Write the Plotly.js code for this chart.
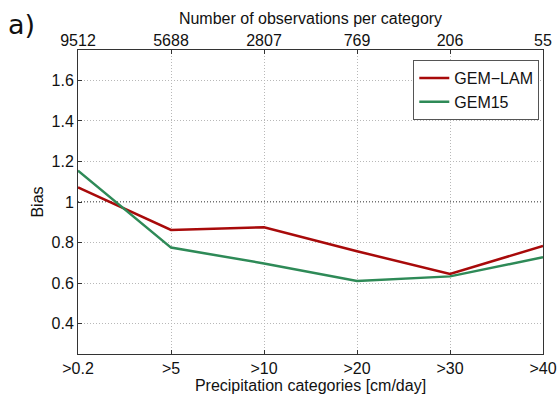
<!DOCTYPE html>
<html><head><meta charset="utf-8">
<script src="https://cdn.plot.ly/plotly-3.0.1.min.js"></script>
<style>body{margin:0;background:#fff}#chart{width:558px;height:401px}</style>
</head><body><div id="chart"></div>
<script>
const categories = [">0.2", ">5", ">10", ">20", ">30", ">40"];
const observations = ["9512", "5688", "2807", "769", "206", "55"];
const gemLam = [1.072, 0.862, 0.875, 0.757, 0.645, 0.783];
const gem15 = [1.155, 0.775, 0.697, 0.610, 0.633, 0.727];

const idx = categories.map((c, i) => i);
const font = {family: "Liberation Sans, Arial, sans-serif", size: 16, color: "#111"};

const traces = [
  {x: idx, y: gemLam, name: "GEM\u2212LAM", type: "scatter", mode: "lines",
   line: {color: "#a80a0a", width: 2.5}},
  {x: idx, y: gem15, name: "GEM15", type: "scatter", mode: "lines",
   line: {color: "#2e8a57", width: 2.5}},
  {x: idx, y: idx.map(() => null), xaxis: "x2", showlegend: false, hoverinfo: "skip"}
];

const grid = {showgrid: true, gridcolor: "#b8b8b8", griddash: "1px,2px", gridwidth: 1};

const layout = {
  width: 558, height: 401,
  margin: {l: 78, r: 15, t: 50, b: 47},
  paper_bgcolor: "#fff", plot_bgcolor: "#fff",
  font: font,
  showlegend: true,
  legend: {x: 0.992, y: 0.967, xanchor: "right", yanchor: "top",
           bordercolor: "#555", borderwidth: 1, bgcolor: "#fff",
           font: {family: font.family, size: 16, color: "#111"},
           tracegroupgap: 0, itemwidth: 30},
  xaxis: Object.assign({
    range: [0, 5], tickmode: "array", tickvals: idx, ticktext: categories,
    zeroline: false, showline: true, linecolor: "#333", linewidth: 1,
    ticks: "inside", ticklen: 4, tickcolor: "#333",
    tickfont: font,
    title: {text: "Precipitation categories [cm/day]", font: font, standoff: 0}
  }, grid),
  xaxis2: {
    overlaying: "x", side: "top", range: [0, 5], tickmode: "array",
    tickvals: idx, ticktext: observations, showgrid: false, zeroline: false,
    showline: true, linecolor: "#333", linewidth: 1,
    ticks: "inside", ticklen: 4, tickcolor: "#333", tickfont: font,
    ticklabelstandoff: -3,
    title: {text: "Number of observations per category", font: font, standoff: 2}
  },
  yaxis: Object.assign({
    range: [0.25, 1.75], tickmode: "array",
    tickvals: [0.4, 0.6, 0.8, 1, 1.2, 1.4, 1.6],
    ticktext: ["0.4", "0.6", "0.8", "1", "1.2", "1.4", "1.6"],
    zeroline: false, showline: true, mirror: true, linecolor: "#333", linewidth: 1,
    ticks: "inside", ticklen: 4, tickcolor: "#333", tickfont: font,
    title: {text: "Bias", font: font, standoff: 3}
  }, grid),
  shapes: [
    {type: "line", xref: "paper", x0: 0, x1: 1, yref: "y", y0: 1, y1: 1,
     line: {color: "#444", width: 1.5, dash: "1px,2px"}, layer: "below"}
  ],
  annotations: [
    {text: "a)", xref: "paper", yref: "paper", x: -0.155, y: 1.085,
     xanchor: "left", yanchor: "middle", showarrow: false,
     font: {family: "DejaVu Sans, sans-serif", size: 27, color: "#111"}}
  ]
};

Plotly.newPlot("chart", traces, layout, {displayModeBar: false, staticPlot: true});
</script></body></html>
